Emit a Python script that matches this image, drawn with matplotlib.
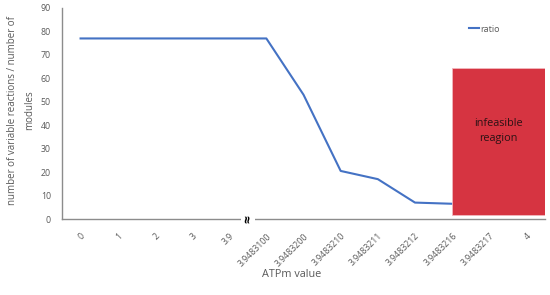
import matplotlib
matplotlib.use("Agg")
import matplotlib.pyplot as plt
from matplotlib.patches import Rectangle

categories = ["0", "1", "2", "3", "3.9", "3.9483100", "3.9483200", "3.9483210",
              "3.9483211", "3.9483212", "3.9483216", "3.9483217", "4"]
ratio = [77, 77, 77, 77, 77, 77, 53, 20.5, 17, 7, 6.5]
infeasible_start = 10
infeasible_top = 64.5
infeasible_bottom = 1.5

plt.rcParams['font.family'] = ['Open Sans', 'DejaVu Sans']
gray = "#8c8c8c"
txt = "#595959"

fig = plt.figure(figsize=(5.5, 2.95), dpi=100)
ax = fig.add_axes([0.1127, 0.2576, 0.991 - 0.1127, 0.973 - 0.2576])

x = list(range(len(ratio)))
ax.plot(x, ratio, color="#4472C4", lw=1.5, label="ratio", zorder=2)

ax.add_patch(Rectangle((infeasible_start, infeasible_bottom), len(categories) - 0.5 - infeasible_start,
                       infeasible_top - infeasible_bottom, facecolor="#D63441", edgecolor="#f2b8bd",
                       lw=0.6, zorder=3))
ax.text((infeasible_start + len(categories) - 0.5) / 2, 37.5, "infeasible\nreagion",
        ha="center", va="center", fontsize=7.8, color="#2a1214", zorder=4, linespacing=1.5)

ax.set_xlim(-0.5, len(categories) - 0.5)
ax.set_ylim(0, 90)
ax.set_yticks(range(0, 91, 10))
ax.set_xticks(range(len(categories)))
ax.set_xticklabels(categories, rotation=45, ha="right", va="top", rotation_mode="anchor")
ax.tick_params(axis="both", length=0, colors=txt, labelsize=6.3)
ax.tick_params(axis="x", pad=9)
ax.tick_params(axis="y", pad=8)
for s in ["top", "right"]:
    ax.spines[s].set_visible(False)
for s in ["left", "bottom"]:
    ax.spines[s].set_color(gray)
    ax.spines[s].set_linewidth(1.0)

ax.text(4.5, 0, "≈", rotation=90, ha="center", va="center", fontsize=10, fontweight="bold",
        color="black", zorder=5, clip_on=False,
        bbox=dict(boxstyle="square,pad=0.0", facecolor="white", edgecolor="none"))

leg = ax.legend(loc="upper left", bbox_to_anchor=(0.825, 0.96), frameon=False, fontsize=6.5,
                handlelength=1.1, handletextpad=0.15, labelcolor=txt)

fig.text(0.038, 0.2576 + (0.973 - 0.2576) / 2 + 0.01, "number of variable reactions / number of\nmodules",
         rotation=90, ha="center", va="center", fontsize=7.0, color=txt, linespacing=1.7)
fig.text(0.53, 0.068, "ATPm value", ha="center", va="center", fontsize=7.8, color=txt)

fig.savefig("out.png", dpi=100)
